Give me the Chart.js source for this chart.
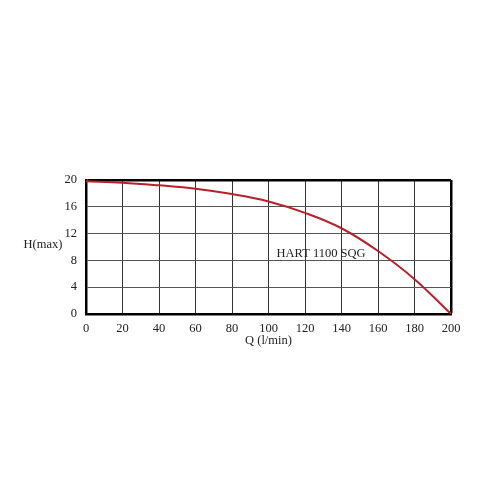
<!DOCTYPE html>
<html>
<head>
<meta charset="utf-8">
<script src="https://cdn.jsdelivr.net/npm/chart.js@4"></script>
<style>
html,body{margin:0;padding:0;background:#fff;}
#wrap{width:500px;height:500px;}
</style>
</head>
<body>
<div id="wrap"><canvas id="c" width="500" height="500"></canvas></div>
<script>
const flowQ = [0, 20, 40, 60, 80, 100, 120, 140, 160, 180, 200];
const headH = [19.8, 19.6, 19.2, 18.7, 17.9, 16.8, 15.1, 12.8, 9.4, 5.2, 0];
const xTicks = [0, 20, 40, 60, 80, 100, 120, 140, 160, 180, 200];
const yTicks = [0, 4, 8, 12, 16, 20];
const seriesLabel = 'HART 1100 SQG';
const xTitle = 'Q (l/min)';
const yTitle = 'H(max)';

const FONT = "'Liberation Serif', 'DejaVu Serif', serif";
const points = flowQ.map((q, i) => ({x: q, y: headH[i]}));

const textPlugin = {
  id: 'texts',
  afterDraw(chart) {
    const {ctx, chartArea, scales} = chart;
    ctx.save();
    ctx.fillStyle = '#222';
    ctx.font = '12.5px ' + FONT;
    ctx.textAlign = 'center';
    ctx.textBaseline = 'middle';
    ctx.fillText(seriesLabel, scales.x.getPixelForValue(128.8), scales.y.getPixelForValue(8.95));
    ctx.fillText(xTitle, (chartArea.left + chartArea.right) / 2, chartArea.bottom + 27);
    ctx.fillText(yTitle, chartArea.left - 43, scales.y.getPixelForValue(10.3));
    ctx.restore();
  }
};

new Chart(document.getElementById('c'), {
  type: 'scatter',
  data: {
    datasets: [{
      label: seriesLabel,
      data: points,
      showLine: true,
      borderColor: '#b8202a',
      borderWidth: 2,
      pointRadius: 0,
      tension: 0.4,
      fill: false
    }]
  },
  options: {
    responsive: false,
    animation: false,
    layout: {padding: {left: 0, right: 49, top: 180, bottom: 156}},
    plugins: {legend: {display: false}, tooltip: {enabled: false}},
    scales: {
      x: {
        type: 'linear', min: 0, max: 200,
        afterBuildTicks: s => { s.ticks = xTicks.map(v => ({value: v})); },
        afterFit: s => { s.height = 30; },
        grid: {
          color: c => (c.index === xTicks.length - 1 ? '#000' : '#333'),
          lineWidth: c => (c.index === xTicks.length - 1 ? 2.5 : 1),
          drawTicks: false
        },
        border: {color: '#000', width: 2.5},
        ticks: {color: '#222', font: {family: FONT, size: 12.5}, padding: 7, maxRotation: 0}
      },
      y: {
        type: 'linear', min: 0, max: 20,
        afterBuildTicks: s => { s.ticks = yTicks.map(v => ({value: v})); },
        afterFit: s => { s.width = 86; },
        grid: {
          color: c => (c.index === yTicks.length - 1 ? '#000' : '#555'),
          lineWidth: c => (c.index === yTicks.length - 1 ? 2.5 : 1),
          drawTicks: false
        },
        border: {color: '#000', width: 2.5},
        ticks: {color: '#222', font: {family: FONT, size: 12.5}, padding: 9}
      }
    }
  },
  plugins: [textPlugin]
});
</script>
</body>
</html>
